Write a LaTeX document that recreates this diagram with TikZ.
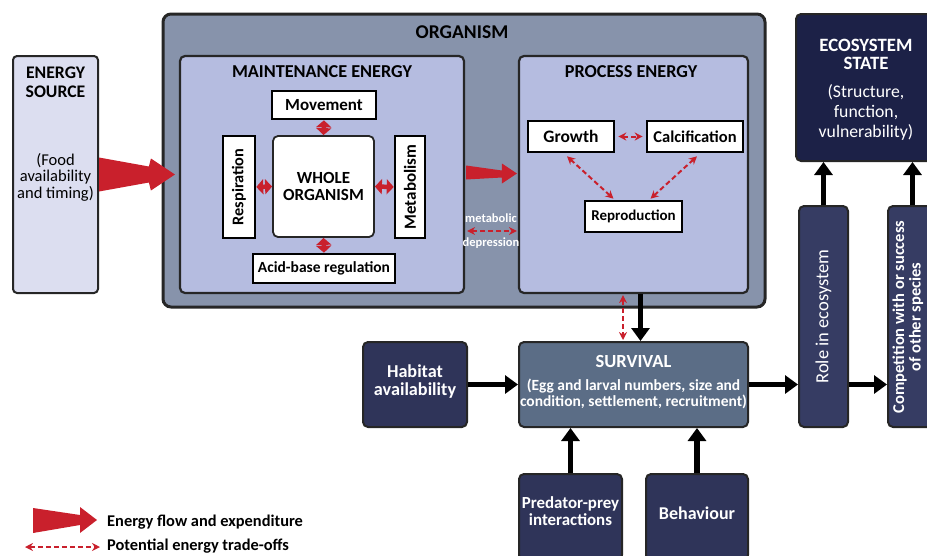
\documentclass[tikz,border=0pt]{standalone}
\usepackage{fontspec}
\setmainfont{Carlito}
\usetikzlibrary{arrows.meta,calc}
\definecolor{tred}{HTML}{C9202C}
\definecolor{edge}{HTML}{262626}
\definecolor{esrc}{HTML}{DCDEF0}
\definecolor{orgf}{HTML}{8793AB}
\definecolor{lav}{HTML}{B5BCE0}
\definecolor{survf}{HTML}{5B6D86}
\definecolor{navy}{HTML}{2F3459}
\definecolor{rolef}{HTML}{363C63}
\definecolor{ecof}{HTML}{1C2147}
\newcommand\fs[2]{\fontsize{#1}{#2}\selectfont}
\tikzset{
  hd/.style={font=\bfseries\fs{18.2}{19}, inner sep=0pt, align=center},
  reg/.style={font=\fs{16.5}{16.5}, inner sep=0pt, align=center},
  wbox/.style={draw=black, line width=2.6pt, fill=white, inner sep=0pt, align=center, font=\bfseries\fs{17}{17}},
  lbox/.style={draw=edge, line width=2.2pt, fill=lav, rounded corners=5pt, inner sep=0pt},
  dbox/.style={draw=edge, line width=2pt, rounded corners=5pt, inner sep=0pt, text=white, align=center, font=\bfseries\fs{18}{18}},
  blk/.style={draw=black, line width=5.5pt, -{Triangle[length=13pt,width=18pt]}},
  trade/.style={draw=tred, line width=2pt, dash pattern=on 5pt off 3pt, {Stealth[length=8pt,width=8pt]}-{Stealth[length=8pt,width=8pt]}},
  sred/.style={draw=tred, line width=4.5pt, {Triangle[length=7pt,width=15pt]}-{Triangle[length=7pt,width=15pt]}},
}
\begin{document}
\begin{tikzpicture}[x=1pt,y=-1pt]
\useasboundingbox (0,0) rectangle (927,555);
\clip (0,0) rectangle (927,555);

% energy source
\node[draw=edge, line width=2pt, fill=esrc, rounded corners=4pt, minimum width=85pt, minimum height=237pt, inner sep=0pt] (es) at (55.5,174.5) {};
\node[hd, font=\bfseries\fs{17.7}{19}] (estitle) at (55.5,82) {ENERGY\\SOURCE};
\node[reg] (estext) at (55.5,177) {(Food\\availability\\and timing)};

% organism
\node[draw=edge, line width=3pt, fill=orgf, rounded corners=8pt, minimum width=602pt, minimum height=293pt, inner sep=0pt] (org) at (464,160.5) {};
\node[hd, font=\bfseries\fs{19.5}{20}] (orgt) at (462,32) {ORGANISM};

% maintenance
\node[lbox, minimum width=284pt, minimum height=237pt] (mnt) at (322,174.5) {};
\node[hd] (mntt) at (322,72) {MAINTENANCE ENERGY};
\node[wbox, minimum width=104pt, minimum height=28pt] (move) at (324,105) {Movement};
\node[wbox, minimum width=32pt, minimum height=102pt, font=\bfseries\fs{16.3}{17}] (resp) at (239,187) {\rotatebox{90}{Respiration}};
\node[draw=edge, line width=1.8pt, fill=white, rounded corners=5pt, minimum width=101pt, minimum height=101pt, inner sep=0pt, align=center, font=\bfseries\fs{17}{17}] (whole) at (323.5,186.5) {WHOLE\\ORGANISM};
\node[wbox, minimum width=30pt, minimum height=102pt] (meta) at (410,187) {\rotatebox{90}{Metabolism}};
\node[wbox, minimum width=142pt, minimum height=29pt, font=\bfseries\fs{15.5}{17}] (acid) at (324,268.5) {Acid-base regulation};
\draw[sred] (whole.north) -- (move.south);
\draw[sred] (whole.west) -- (resp.east);
\draw[sred] (whole.east) -- (meta.west);
\draw[sred] (whole.south) -- (acid.north);

% process
\node[lbox, minimum width=229pt, minimum height=237pt] (proc) at (633.5,174.5) {};
\node[hd] (proct) at (631,72) {PROCESS ENERGY};
\node[wbox, minimum width=86pt, minimum height=31pt, font=\bfseries\fs{17.5}{17}] (grow) at (571,136.5) {Growth};
\node[wbox, minimum width=96pt, minimum height=31pt, font=\bfseries\fs{16.5}{17}] (calc) at (695,136.5) {Calcification};
\node[wbox, minimum width=97pt, minimum height=31pt, font=\bfseries\fs{15}{17}] (repro) at (633.5,216.5) {Reproduction};
\draw[trade] ($(grow.east)+(3,0)$) -- ($(calc.west)+(-3,0)$);
\draw[trade] ($(grow.south)+(-4,3)$) -- ($(repro.north)+(-20,-1)$);
\draw[trade] ($(calc.south)+(2,3)$) -- ($(repro.north)+(17,-1)$);

% red fat arrows
\fill[tred] ($(es.east)+(0,-17)$) -- ($(mnt.west)+(-30,-8)$) -- ($(mnt.west)+(-28,-16)$) -- ($(mnt.west)+(-4,0)$) -- ($(mnt.west)+(-28,16)$) -- ($(mnt.west)+(-30,8)$) -- ($(es.east)+(0,17)$) -- cycle;
\fill[tred] ($(mnt.east)+(1,-9)$) -- ($(proc.west)+(-16,-4)$) -- ($(proc.west)+(-16,-11)$) -- ($(proc.west)+(-1,-1)$) -- ($(proc.west)+(-16,9)$) -- ($(proc.west)+(-16,3)$) -- ($(mnt.east)+(1,5)$) -- cycle;

% metabolic depression
\node[font=\bfseries\fs{12.5}{13}, text=white, inner sep=0pt] (mdep1) at (491,218) {metabolic};
\node[font=\bfseries\fs{12.5}{13}, text=white, inner sep=0pt] (mdep2) at (491,243) {depression};
\draw[trade] ($(mnt.east |- 0,231)+(2,0)$) -- ($(proc.west |- 0,231)+(-1,0)$);

% ecosystem state
\node[dbox, fill=ecof, minimum width=140pt, minimum height=147pt] (eco) at (866,87.5) {};
\node[hd, text=white, font=\bfseries\fs{18.8}{18}] (ecot) at (866,54) {ECOSYSTEM\\STATE};
\node[text=white, inner sep=0pt, align=center, font=\fs{17.7}{20}] (ecotx) at (866,112) {(Structure,\\function,\\vulnerability)};

% survival etc
\node[dbox, fill=survf, minimum width=229pt, minimum height=85pt] (surv) at (633.5,384.5) {};
\node[hd, text=white, font=\bfseries\fs{18.5}{19}] (survt) at (633.5,361) {SURVIVAL};
\node[font=\bfseries\fs{15.5}{16.5}, text=white, align=center, inner sep=0pt] (survx) at (633.5,394) {(Egg and larval numbers, size and\\condition, settlement, recruitment)};
\node[dbox, fill=navy, minimum width=104pt, minimum height=85pt] (hab) at (415,384.5) {};
\node[text=white, align=center, inner sep=0pt, font=\bfseries\fs{18.2}{18}] (habt) at (415,382) {Habitat\\availability};
\node[dbox, fill=navy, minimum width=103pt, minimum height=86pt] (pred) at (570.5,517) {};
\node[text=white, align=center, inner sep=0pt, font=\bfseries\fs{16.9}{17}] (predt) at (570.5,511) {Predator-prey\\interactions};
\node[dbox, fill=navy, minimum width=102pt, minimum height=86pt] (beh) at (697,517) {};
\node[text=white, align=center, inner sep=0pt, font=\bfseries\fs{18}{18}] (beht) at (697,513) {Behaviour};
\node[dbox, fill=rolef, minimum width=49pt, minimum height=221pt, font=\fs{18.5}{19}] (role) at (823.5,316.5) {\rotatebox{90}{Role in ecosystem}};
\node[dbox, fill=rolef, minimum width=49pt, minimum height=221pt] (comp) at (912.5,316.5) {};
\node[text=white, inner sep=0pt, font=\bfseries\fs{16.5}{16}] (compt) at (909,317) {\rotatebox{90}{\begin{tabular}{@{}c@{}}Competition with or success\\of other species\end{tabular}}};

\draw[blk] ($(proc.south)+(7,0)$) -- ($(surv.north)+(7,0)$);
\draw[trade] ($(proc.south)+(-10.5,1)$) -- ($(surv.north)+(-10.5,-1)$);
\draw[blk] (hab.east) -- (surv.west);
\draw[blk] (surv.east) -- (surv.east -| role.west);
\draw[blk] (role.east |- surv.east) -- (comp.west |- surv.east);
\draw[blk] (pred.north) -- (pred.north |- surv.south);
\draw[blk] (beh.north) -- (beh.north |- surv.south);
\draw[blk] (role.north) -- (role.north |- eco.south);
\draw[blk] (comp.north) -- (comp.north |- eco.south);

% legend
\coordinate (lg1) at (33,520);
\coordinate (lg2) at (97,520);
\fill[tred] ($(lg1)+(0,-12)$) -- ($(lg2)+(-17,-5)$) -- ($(lg2)+(-17,-13)$) -- (lg2) -- ($(lg2)+(-17,13)$) -- ($(lg2)+(-17,5)$) -- ($(lg1)+(0,13)$) -- cycle;
\node[anchor=west, inner sep=0pt, font=\bfseries\fs{16.4}{17}] (lgt1) at (107,522) {Energy flow and expenditure};
\coordinate (lg3) at (25,547);
\coordinate (lg4) at (100,547);
\draw[trade] (lg3) -- (lg4);
\node[anchor=west, inner sep=0pt, font=\bfseries\fs{16.4}{17}] (lgt2) at (107,546) {Potential energy trade-offs};
\end{tikzpicture}
\end{document}
